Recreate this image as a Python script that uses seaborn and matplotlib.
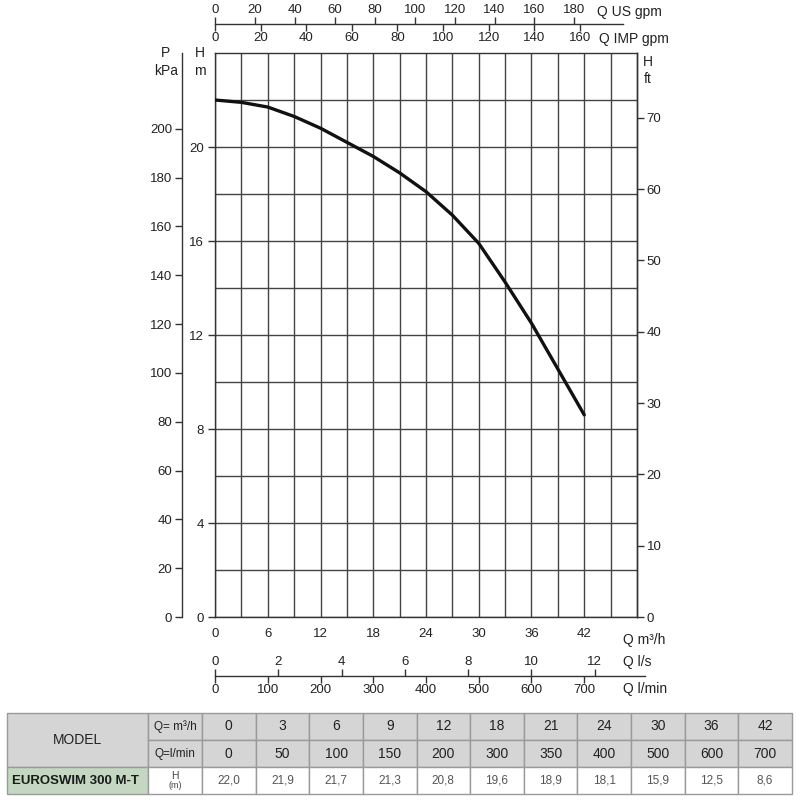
import numpy as np
import pandas as pd
import matplotlib
matplotlib.use("Agg")
import matplotlib.pyplot as plt
from matplotlib.patches import Rectangle
import seaborn as sns

# ---------------- data ----------------
table_q_m3h = [0, 3, 6, 9, 12, 18, 21, 24, 30, 36, 42]
table_q_lmin = [0, 50, 100, 150, 200, 300, 350, 400, 500, 600, 700]
table_h = [22.0, 21.9, 21.7, 21.3, 20.8, 19.6, 18.9, 18.1, 15.9, 12.5, 8.6]
# extra curve points
read_q = [15, 27, 33, 39]
read_h = [20.2, 17.1, 14.25, 10.55]

model_name = "EUROSWIM 300 M-T"

x_ticks_m3h = [0, 6, 12, 18, 24, 30, 36, 42]
y_ticks_m = [0, 4, 8, 12, 16, 20]
p_ticks_kpa = [0, 20, 40, 60, 80, 100, 120, 140, 160, 180, 200]
ft_ticks = [0, 10, 20, 30, 40, 50, 60, 70]
usgpm_ticks = [0, 20, 40, 60, 80, 100, 120, 140, 160, 180]
impgpm_ticks = [0, 20, 40, 60, 80, 100, 120, 140, 160]
ls_ticks = [0, 2, 4, 6, 8, 10, 12]
lmin_ticks = [0, 100, 200, 300, 400, 500, 600, 700]

# ---------------- style ----------------
sns.set_theme(style="white")
FONT = ["Liberation Sans Narrow", "Liberation Sans", "DejaVu Sans"]
plt.rcParams["font.family"] = FONT
plt.rcParams["axes.edgecolor"] = "#333333"
plt.rcParams["axes.linewidth"] = 1.0
plt.rcParams["xtick.color"] = "#333333"
plt.rcParams["ytick.color"] = "#333333"
plt.rcParams["xtick.labelcolor"] = "#222222"
plt.rcParams["ytick.labelcolor"] = "#222222"

TS = 9.5  # tick label size

W = H_FIG = 800
fig = plt.figure(figsize=(8, 8), dpi=100)
fig.patch.set_facecolor("white")

L, R, T, B = 215, 637, 53, 617
ax = fig.add_axes([L / W, 1 - B / H_FIG, (R - L) / W, (B - T) / H_FIG])
ax.set_facecolor("white")

curve = pd.DataFrame({"q": table_q_m3h + read_q, "h": table_h + read_h}).sort_values("q")
sns.lineplot(data=curve, x="q", y="h", ax=ax, color="#111111", lw=2.4, sort=True, zorder=5)

ax.set_xlim(0, 48)
ax.set_ylim(0, 24)
ax.set_xticks(x_ticks_m3h)
ax.set_xticks(np.arange(3, 48, 3), minor=True)
ax.set_yticks(y_ticks_m)
ax.set_yticks(np.arange(2, 24, 2), minor=True)
ax.grid(True, which="both", color="#444444", lw=1.0)
ax.set_xlabel("")
ax.set_ylabel("")
ax.tick_params(axis="both", which="major", direction="out", length=5, width=1, labelsize=TS, pad=3)
ax.tick_params(axis="both", which="minor", length=0)
for s in ax.spines.values():
    s.set_visible(True)
    s.set_color("#333333")

# right axis: ft
ax_ft = ax.twinx()
ax_ft.set_ylim(0, 79.1)
ax_ft.set_yticks(ft_ticks)
ax_ft.tick_params(axis="y", direction="out", length=5, width=1, labelsize=TS, pad=2)
ax_ft.grid(False)
for k, s in ax_ft.spines.items():
    s.set_visible(k == "right")

# left outer axis: kPa
ax_p = ax.twinx()
ax_p.set_ylim(0, 231)
ax_p.set_yticks(p_ticks_kpa)
ax_p.yaxis.tick_left()
ax_p.spines["left"].set_position(("axes", -(L - 182) / (R - L)))
for k, s in ax_p.spines.items():
    s.set_visible(k == "left")
ax_p.tick_params(axis="y", direction="out", length=5, width=1, labelsize=TS, pad=2)
ax_p.grid(False)


def flow_axis(y_px, x_end, factor, ticks, side, draw_line=True):
    a = fig.add_axes([L / W, 1 - y_px / H_FIG, (x_end - L) / W, 1e-6])
    a.set_facecolor("none")
    a.set_xlim(0, (x_end - L) / (R - L) * 48 / factor)
    a.set_yticks([])
    a.set_xticks(ticks)
    for k, s in a.spines.items():
        s.set_visible(k == "bottom" and draw_line)
    if side == "top":
        a.xaxis.tick_top()
        a.tick_params(axis="x", top=True, bottom=False, labeltop=True, labelbottom=False,
                      direction="out", length=5, width=1, labelsize=TS, pad=1)
    else:
        a.tick_params(axis="x", top=False, bottom=True, labeltop=False, labelbottom=True,
                      direction="out", length=5, width=1, labelsize=TS, pad=1)
    a.grid(False)
    return a


flow_axis(24, 623, 0.2271, usgpm_ticks, "top")
flow_axis(24, 623, 0.2594, impgpm_ticks, "bottom", draw_line=False)
flow_axis(676, 645, 3.6, ls_ticks, "top")
flow_axis(676, 645, 0.06, lmin_ticks, "bottom", draw_line=False)


def ftext(x, y, s, **kw):
    kw.setdefault("fontsize", 10)
    kw.setdefault("color", "#222222")
    kw.setdefault("va", "center")
    fig.text(x / W, 1 - y / H_FIG, s, **kw)


ftext(597, 12, "Q US gpm", ha="left")
ftext(599, 39, "Q IMP gpm", ha="left")
ftext(623, 640, "Q m³/h", ha="left")
ftext(623, 662, "Q l/s", ha="left")
ftext(623, 689, "Q l/min", ha="left")
ftext(166, 53, "P", ha="center")
ftext(166, 71, "kPa", ha="center")
ftext(200, 53, "H", ha="center")
ftext(200, 71, "m", ha="center")
ftext(648, 62, "H", ha="center")
ftext(648, 79, "ft", ha="center")

# ---------------- table ----------------
at = fig.add_axes([0, 0, 1, 1])
at.set_xlim(0, W)
at.set_ylim(H_FIG, 0)
at.axis("off")
at.set_zorder(-1)

GREY = "#d5d5d5"
GREEN = "#c3d7c1"
EDGE = "#9a9a9a"
x0, x1, x2, xe = 7, 148, 202, 792
y0, y1, y2, y3 = 713, 740, 767, 794
ncol = len(table_q_m3h)
cw = (xe - x2) / ncol


def cell(x, y, w, h, fc):
    at.add_patch(Rectangle((x, y), w, h, facecolor=fc, edgecolor=EDGE, lw=1.0))


cell(x0, y0, x1 - x0, y2 - y0, GREY)
cell(x1, y0, x2 - x1, y1 - y0, GREY)
cell(x1, y1, x2 - x1, y2 - y1, GREY)
cell(x0, y2, x1 - x0, y3 - y2, GREEN)
cell(x1, y2, x2 - x1, y3 - y2, "white")
for i in range(ncol):
    xc = x2 + i * cw
    cell(xc, y0, cw, y1 - y0, GREY)
    cell(xc, y1, cw, y2 - y1, GREY)
    cell(xc, y2, cw, y3 - y2, "white")

TFONT = ["Liberation Sans Narrow", "Liberation Sans", "DejaVu Sans"]
at.text((x0 + x1) / 2, (y0 + y2) / 2, "MODEL", ha="center", va="center", fontsize=10,
        color="#222222", family=TFONT)
at.text((x1 + x2) / 2, (y0 + y1) / 2, "Q= m³/h", ha="center", va="center", fontsize=8.5,
        color="#222222", family=TFONT)
at.text((x1 + x2) / 2, (y1 + y2) / 2, "Q=l/min", ha="center", va="center", fontsize=8.5,
        color="#222222", family=TFONT)
at.text(x0 + 5, (y2 + y3) / 2, model_name, ha="left", va="center", fontsize=9.5,
        fontweight="bold", color="#1a1a1a", family=TFONT)
at.text((x1 + x2) / 2, y2 + 9, "H", ha="center", va="center", fontsize=7.5, color="#444444", family=TFONT)
at.text((x1 + x2) / 2, y2 + 19, "(m)", ha="center", va="center", fontsize=6.5, color="#444444", family=TFONT)
for i in range(ncol):
    xc = x2 + (i + 0.5) * cw
    at.text(xc, (y0 + y1) / 2, f"{table_q_m3h[i]}", ha="center", va="center", fontsize=10,
            color="#222222", family=TFONT)
    at.text(xc, (y1 + y2) / 2, f"{table_q_lmin[i]}", ha="center", va="center", fontsize=10,
            color="#222222", family=TFONT)
    at.text(xc, (y2 + y3) / 2, f"{table_h[i]:.1f}".replace(".", ","), ha="center", va="center",
            fontsize=8.5, color="#555555", family=TFONT)

fig.savefig("out.png", dpi=100, facecolor="white")
